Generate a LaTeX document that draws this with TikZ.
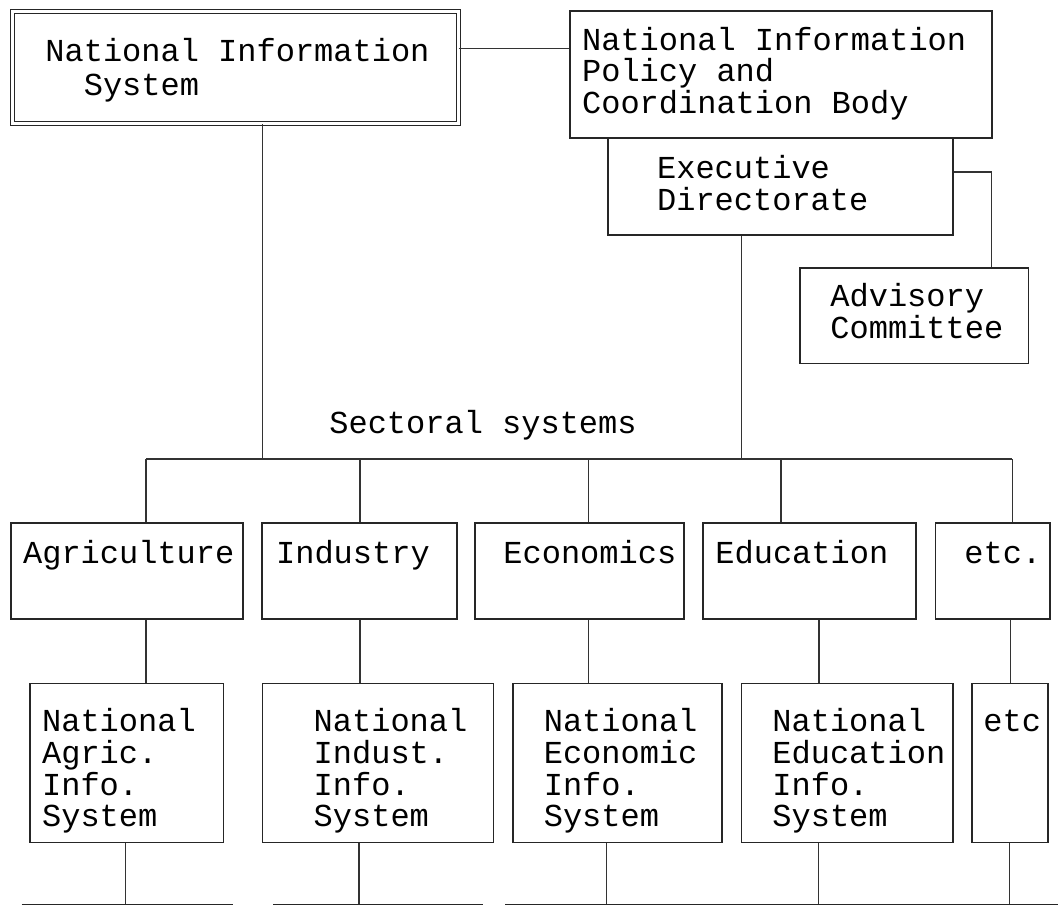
\documentclass[tikz,border=0pt]{standalone}
\usepackage{fontspec}
\newfontfamily\monofont{Liberation Mono}
\tikzset{
  box/.style={draw=black!85, line width=0.8pt, inner sep=0pt},
  boxsize/.style 2 args={minimum width=#1*0.5pt, minimum height=#2*0.5pt},
  txt/.style={font=\monofont\fontsize{16pt}{15.85pt}\selectfont, inner sep=0pt, align=left, anchor=base west},
  link/.style={draw=black!80, line width=0.55pt},
}
\begin{document}
\begin{tikzpicture}[x=0.5pt, y=-0.5pt]
\useasboundingbox (0,0) rectangle (1058,906);
\node[box, double, double distance=1.4pt, line width=0.6pt, boxsize={445.6}{112.3}] (nis) at (235.4,67.35) {};
\node[box, boxsize={422}{127.3}] (pol) at (781,74.35) {};
\node[box, boxsize={345}{97}] (ed) at (780.2,186.5) {};
\node[box, boxsize={228.3}{95.6}] (adv) at (914.15,315.5) {};
\node[txt] (nis-t) at (45,95.5) {National Information\\[1.4pt]\phantom{Sy}System};
\node[txt] (pol-t) at (581.7,113.4) {National Information\\Policy and\\Coordination Body};
\node[txt] (ed-t) at (656.7,210) {Executive\\Directorate};
\node[txt] (adv-t) at (830,338.4) {Advisory\\Committee};
\node[txt, anchor=base] (sect) at (483,433.3) {Sectoral systems};

\node[box, boxsize={232.3}{96.3}] (agr) at (126.85,570.85) {};
\node[box, boxsize={194.7}{96.3}] (ind) at (359.35,570.85) {};
\node[box, boxsize={208.8}{96.3}] (eco) at (579.4,570.85) {};
\node[box, boxsize={213.1}{96.3}] (edu) at (809.35,570.85) {};
\node[box, boxsize={114.5}{96.3}] (oth) at (992.75,570.85) {};
\node[txt] (agr-t) at (22.7,563.3) {Agriculture};
\node[txt] (ind-t) at (275.7,563.3) {Industry};
\node[txt] (eco-t) at (503,563.3) {Economics};
\node[txt] (edu-t) at (715,563.3) {Education};
\node[txt] (oth-t) at (964,563.3) {etc.};

\node[box, boxsize={193.3}{159}] (agr-i) at (126.65,762.8) {};
\node[box, boxsize={231}{159}] (ind-i) at (377.8,762.8) {};
\node[box, boxsize={208.7}{159}] (eco-i) at (617.35,762.8) {};
\node[box, boxsize={211.7}{159}] (edu-i) at (847.15,762.8) {};
\node[box, boxsize={76}{159}] (oth-i) at (1010,762.8) {};
\node[txt] (agr-it) at (41.7,826.8) {National\\Agric.\\Info.\\System};
\node[txt] (ind-it) at (313.3,826.8) {National\\Indust.\\Info.\\System};
\node[txt] (eco-it) at (543.4,826.8) {National\\Economic\\Info.\\System};
\node[txt] (edu-it) at (772,826.8) {National\\Education\\Info.\\System};
\node[txt] (oth-it) at (983,731.7) {etc};

\coordinate (tie) at (514,48.6);
\draw[link] (tie -| nis.east) -- (tie -| pol.west);
\coordinate (side) at (991.7,172);
\draw[link] (side -| ed.east) -- (side) -- (side |- adv.north);
\coordinate (j1) at (262.7,459);
\coordinate (j2) at (741.7,459);
\draw[link] (j1 |- nis.south) -- (j1);
\draw[link] (j2 |- ed.south) -- (j2);

\foreach \n/\x in {agr/146, ind/360, eco/588.3, edu/781, oth/1012.4}{
  \coordinate (d-\n) at (\x,459);
  \draw[link] (d-\n) -- (d-\n |- \n.north);
}
\draw[link] (d-agr) -- (d-oth);
\foreach \n/\x/\y in {agr/146/125.7, ind/360/359, eco/588.3/606.8, edu/819/818.5, oth/1010.5/1009.6}{
  \draw[link] (\n.south -| \x,0) -- (\n-i.north -| \x,0);
  \coordinate (b-\n) at (\y,904.3);
  \draw[link] (\n-i.south -| b-\n) -- (b-\n);
}
\coordinate (c1) at (21.7,904.3);
\coordinate (c2) at (233,904.3);
\coordinate (c3) at (273,904.3);
\coordinate (c4) at (483,904.3);
\coordinate (c5) at (505,904.3);
\coordinate (c6) at (1058,904.3);
\draw[box] (c1) -- (c2) (c3) -- (c4) (c5) -- (c6);
\end{tikzpicture}
\end{document}
